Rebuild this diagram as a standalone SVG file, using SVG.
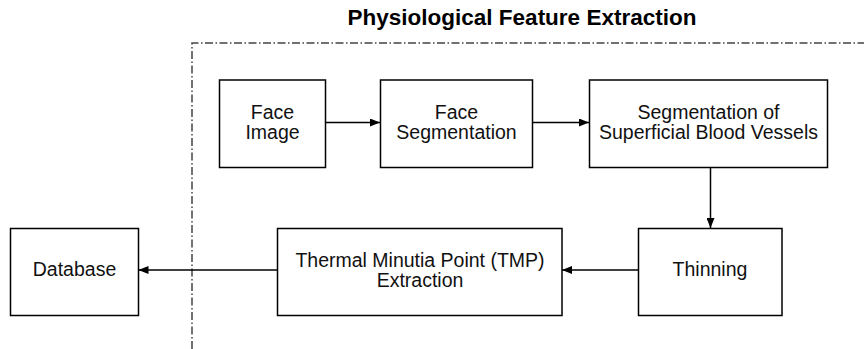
<svg xmlns="http://www.w3.org/2000/svg" width="864" height="349" viewBox="0 0 864 349">
  <style>
    .box { fill: #ffffff; stroke: #000000; stroke-width: 1.5; }
    .lbl { font-family: "Liberation Sans", Arial, sans-serif; font-size: 19.5px; fill: #111111; text-anchor: middle; }
    .title { font-family: "Liberation Sans", Arial, sans-serif; font-size: 22.5px; font-weight: bold; fill: #000000; text-anchor: middle; }
    .conn { stroke: #000000; stroke-width: 1.5; fill: none; marker-end: url(#arrow); }
    .boundary { stroke: #444444; stroke-width: 1.5; fill: none; stroke-dasharray: 8 2.5 1.5 2.5; }
  </style>
  <defs>
    <marker id="arrow" viewBox="0 0 10 8" refX="10" refY="4" markerWidth="10" markerHeight="8" markerUnits="userSpaceOnUse" orient="auto">
      <path d="M0,0 L10,4 L0,8 Z" fill="#000000"/>
    </marker>
  </defs>

  <rect width="864" height="349" fill="#ffffff"/>

  <!-- feature-extraction boundary -->
  <g id="boundary">
    <path class="boundary" d="M192,349 L192,43 L864,43"/>
    <text class="title" x="522" y="25">Physiological Feature Extraction</text>
  </g>

  <g id="connectors">
    <line class="conn" x1="326" y1="122.5" x2="380" y2="122.5"/>
    <line class="conn" x1="532" y1="122.5" x2="589" y2="122.5"/>
    <line class="conn" x1="710.5" y1="167.5" x2="710.5" y2="228"/>
    <line class="conn" x1="638" y1="270" x2="562" y2="270"/>
    <line class="conn" x1="277" y1="270" x2="138.5" y2="270"/>
  </g>

  <g id="face-image">
    <rect class="box" x="219.5" y="80" width="106" height="87.5"/>
    <text class="lbl" x="272.5" y="118.5">Face</text>
    <text class="lbl" x="272.5" y="138.5">Image</text>
  </g>

  <g id="face-segmentation">
    <rect class="box" x="380.5" y="80" width="152" height="87.5"/>
    <text class="lbl" x="456.5" y="118.5">Face</text>
    <text class="lbl" x="456.5" y="138.5">Segmentation</text>
  </g>

  <g id="vessel-segmentation">
    <rect class="box" x="589.5" y="80" width="238" height="87.5"/>
    <text class="lbl" x="708.5" y="118.5">Segmentation of</text>
    <text class="lbl" x="708.5" y="138.5">Superficial Blood Vessels</text>
  </g>

  <g id="thinning">
    <rect class="box" x="638.5" y="228.5" width="143.5" height="87"/>
    <text class="lbl" x="710" y="276">Thinning</text>
  </g>

  <g id="tmp-extraction">
    <rect class="box" x="277.5" y="228.5" width="284.5" height="87"/>
    <text class="lbl" x="420" y="266.5">Thermal Minutia Point (TMP)</text>
    <text class="lbl" x="420" y="286.5">Extraction</text>
  </g>

  <g id="database">
    <rect class="box" x="10.5" y="228.5" width="128" height="87"/>
    <text class="lbl" x="74.5" y="275.5">Database</text>
  </g>
</svg>
